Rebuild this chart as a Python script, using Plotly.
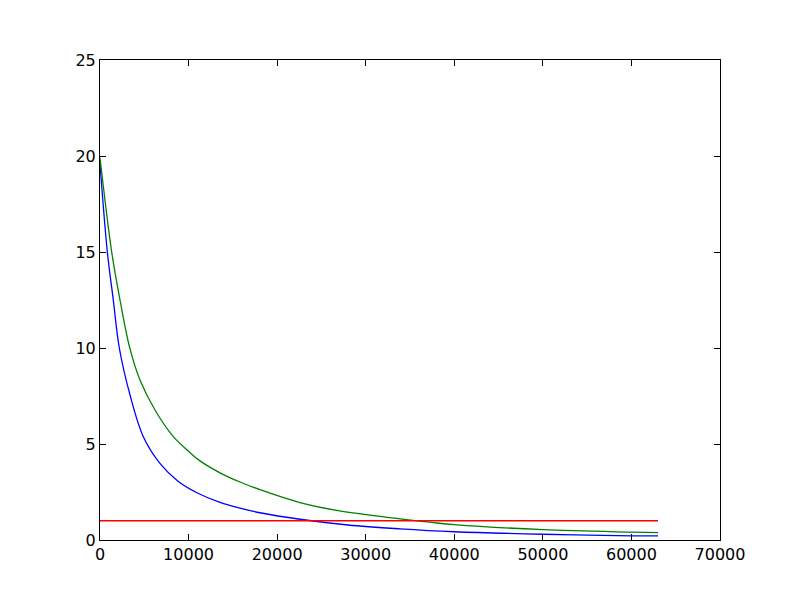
import plotly.graph_objects as go

blue_x = [0, 830, 1500, 2180, 3390, 4890, 6770, 8840, 11000, 13550, 15800, 18060, 22580, 28000, 33870, 40000, 50000, 60000, 63000]
blue_y = [19.6, 15.0, 12.5, 10.0, 7.55, 5.38, 3.99, 3.05, 2.45, 1.96, 1.66, 1.42, 1.08, 0.78, 0.58, 0.43, 0.30, 0.22, 0.21]

green_x = [0, 1320, 2260, 3390, 4516, 6210, 8280, 10000, 11290, 13550, 15800, 18060, 22580, 26900, 33870, 37370, 40000, 50000, 60000, 63000]
green_y = [19.9, 15.0, 12.5, 9.95, 8.33, 6.77, 5.38, 4.62, 4.12, 3.50, 3.02, 2.62, 1.95, 1.53, 1.10, 0.92, 0.80, 0.54, 0.41, 0.38]

red_x = [0, 63000]
red_y = [1, 1]

x_ticks = [0, 10000, 20000, 30000, 40000, 50000, 60000, 70000]
y_ticks = [0, 5, 10, 15, 20, 25]

fig = go.Figure()
fig.add_trace(go.Scatter(x=blue_x, y=blue_y, mode="lines", line=dict(color="#0000ff", width=1.3, shape="spline", smoothing=1.0)))
fig.add_trace(go.Scatter(x=green_x, y=green_y, mode="lines", line=dict(color="#008000", width=1.3, shape="spline", smoothing=1.0)))
fig.add_trace(go.Scatter(x=red_x, y=red_y, mode="lines", line=dict(color="#ff0000", width=1.4)))

axis_common = dict(
    showgrid=False, zeroline=False, showline=True, linecolor="black", linewidth=1,
    mirror="ticks", ticks="inside", ticklen=6, tickcolor="black", tickwidth=1,
    tickfont=dict(family="DejaVu Sans", size=16, color="black"),
)
fig.update_xaxes(range=[0, 70000], tickvals=x_ticks, ticktext=[str(v) for v in x_ticks], **axis_common)
fig.update_yaxes(range=[0, 25], tickvals=y_ticks, ticktext=[str(v) for v in y_ticks], **axis_common)

fig.update_layout(
    width=800, height=600, showlegend=False,
    paper_bgcolor="white", plot_bgcolor="white",
    margin=dict(l=92, r=88, t=52, b=68, autoexpand=False),
)
fig.write_html("out.html")
